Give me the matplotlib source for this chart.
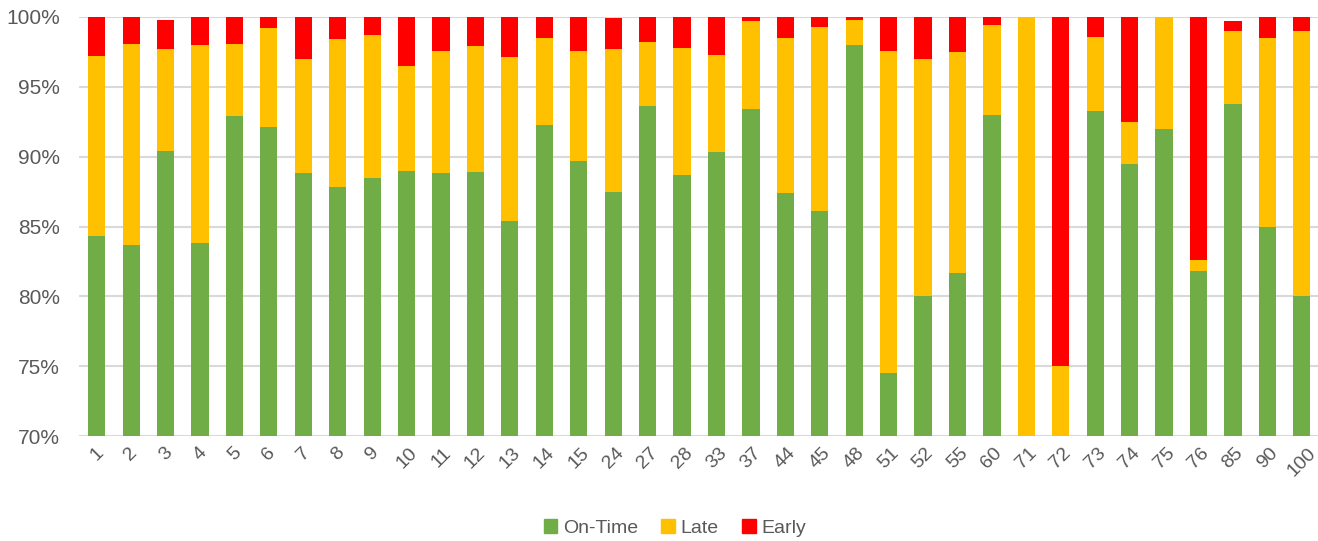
import numpy as np
import matplotlib.pyplot as plt
from matplotlib.patches import Patch

# route numbers and share of trips per status (%)
routes = ["1", "2", "3", "4", "5", "6", "7", "8", "9", "10", "11", "12", "13", "14",
          "15", "24", "27", "28", "33", "37", "44", "45", "48", "51", "52", "55", "60",
          "71", "72", "73", "74", "75", "76", "85", "90", "100"]
on_time = [84.3, 83.7, 90.4, 83.8, 92.9, 92.1, 88.8, 87.8, 88.5, 89.0, 88.8, 88.9,
           85.4, 92.3, 89.7, 87.5, 93.6, 88.7, 90.3, 93.4, 87.4, 86.1, 98.0, 74.5,
           80.0, 81.7, 93.0, 0.0, 0.0, 93.3, 89.5, 92.0, 81.8, 93.8, 85.0, 80.0]
late = [12.9, 14.4, 7.3, 14.2, 5.2, 7.1, 8.2, 10.6, 10.2, 7.5, 8.8, 9.0,
        11.7, 6.2, 7.9, 10.2, 4.6, 9.1, 7.0, 6.3, 11.1, 13.2, 1.8, 23.1,
        17.0, 15.8, 6.4, 100.0, 75.0, 5.3, 3.0, 8.0, 0.8, 5.2, 13.5, 19.0]
early = [2.8, 1.9, 2.1, 2.0, 1.9, 0.8, 3.0, 1.6, 1.3, 3.5, 2.4, 2.1,
         2.9, 1.5, 2.4, 2.2, 1.8, 2.3, 2.7, 0.3, 1.5, 0.8, 0.2, 2.4,
         3.1, 2.5, 0.6, 0.0, 25.0, 1.4, 7.5, 0.1, 17.5, 0.7, 1.5, 1.0]

green = "#70AD47"
yellow = "#FFC000"
red = "#FF0000"
text_grey = "#595959"

fig = plt.figure(figsize=(13.18, 5.41), dpi=100)
ax = fig.add_axes([0.0603, 0.194, 0.9405, 0.7746])

x = np.arange(len(routes))
on_time = np.array(on_time)
late = np.array(late)
early = np.array(early)

ax.bar(x, on_time, width=0.5, color=green, zorder=2)
ax.bar(x, late, width=0.5, bottom=on_time, color=yellow, zorder=2)
ax.bar(x, early, width=0.5, bottom=on_time + late, color=red, zorder=2)

ax.set_xlim(-0.5, len(routes) - 0.5)
ax.set_ylim(70, 100)
ax.set_yticks(np.arange(70, 101, 5))
ax.set_yticklabels([f"{v}%" for v in range(70, 101, 5)])
ax.set_xticks(x)
ax.set_xticklabels(routes, rotation=45, ha="center", va="top")

ax.grid(axis="y", color="#D9D9D9", linewidth=1.5, zorder=0)
ax.set_axisbelow(True)
for spine in ax.spines.values():
    spine.set_visible(False)
ax.tick_params(axis="y", length=0, pad=14, labelsize=15, labelcolor=text_grey)
ax.tick_params(axis="x", length=0, pad=6, labelsize=14, labelcolor=text_grey)
for lbl in ax.get_xticklabels() + ax.get_yticklabels():
    lbl.set_fontfamily("Liberation Sans")

handles = [Patch(color=green, label="On-Time"),
           Patch(color=yellow, label="Late"),
           Patch(color=red, label="Early")]
fig.legend(handles=handles, loc="center", bbox_to_anchor=(675 / 1318, 1 - 528 / 541),
           ncol=3, frameon=False, handlelength=0.7, handleheight=0.7,
           handletextpad=0.3, columnspacing=1.2,
           prop={"family": "Liberation Sans", "size": 14}, labelcolor=text_grey)

fig.savefig("out.png", dpi=100)
